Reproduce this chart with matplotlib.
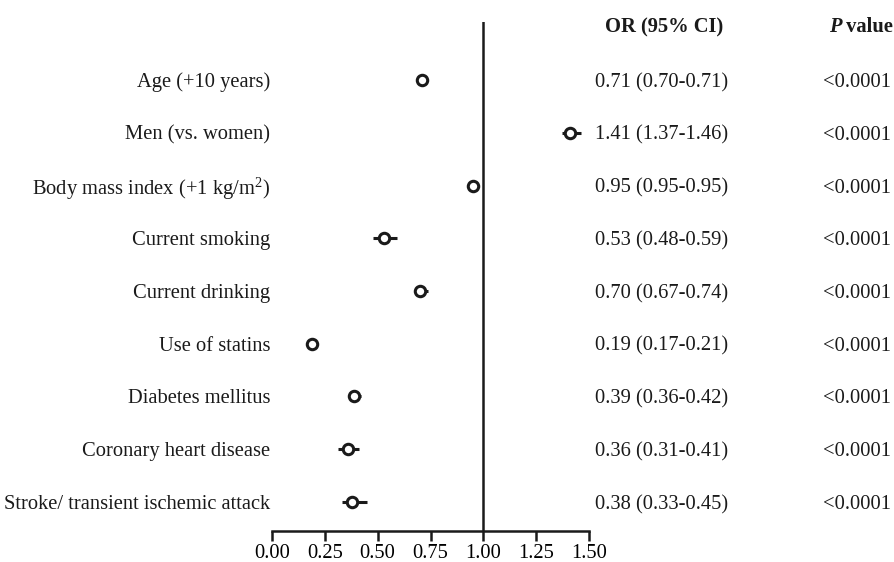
import numpy as np
import matplotlib
matplotlib.use("Agg")
import matplotlib.pyplot as plt

plt.rcParams['font.family'] = ['Liberation Serif', 'DejaVu Serif']
plt.rcParams['mathtext.fontset'] = 'custom'
plt.rcParams['mathtext.rm'] = 'Liberation Serif'
plt.rcParams['mathtext.it'] = 'Liberation Serif:italic'
plt.rcParams['mathtext.bf'] = 'Liberation Serif:bold'

# data
labels = ["Age (+10 years)", "Men (vs. women)", "Body mass index (+1 kg/m$^2$)",
          "Current smoking", "Current drinking", "Use of statins",
          "Diabetes mellitus", "Coronary heart disease",
          "Stroke/ transient ischemic attack"]
odds = [0.71, 1.41, 0.95, 0.53, 0.70, 0.19, 0.39, 0.36, 0.38]
ci_low = [0.70, 1.37, 0.95, 0.48, 0.67, 0.17, 0.36, 0.31, 0.33]
ci_high = [0.71, 1.46, 0.95, 0.59, 0.74, 0.21, 0.42, 0.41, 0.45]
p_values = ["<0.0001"] * 9
xticks = [0.00, 0.25, 0.50, 0.75, 1.00, 1.25, 1.50]

fs = 14.8
ink = '#1a1a1a'

fig = plt.figure(figsize=(8.94, 5.62), dpi=100)
ax = fig.add_axes([272 / 894, 31 / 562, 317 / 894, 509 / 562])

rows = np.arange(1, len(labels) + 1)
odds = np.array(odds)
err = [odds - np.array(ci_low), np.array(ci_high) - odds]

ax.errorbar(odds, rows, xerr=err, fmt='none', ecolor=ink, elinewidth=2.2, capsize=0)
ax.plot(odds, rows, 'o', markersize=7.5, markerfacecolor='white',
        markeredgecolor=ink, markeredgewidth=2.2, linestyle='none')
ax.axvline(1.0, color=ink, linewidth=1.8, zorder=0)

ax.set_xlim(0, 1.5)
ax.set_ylim(9.55, -0.1)
ax.set_xticks(xticks)
ax.set_xticklabels([f"{t:.2f}" for t in xticks], fontsize=fs)
ax.set_yticks([])
for s in ['top', 'right', 'left']:
    ax.spines[s].set_visible(False)
ax.spines['bottom'].set_linewidth(1.8)
ax.spines['bottom'].set_color(ink)
ax.tick_params(axis='x', length=7, width=1.8, color=ink, pad=2)

for r, lab in zip(rows, labels):
    ax.text(-0.005, r, lab, ha='right', va='center_baseline', fontsize=fs,
            transform=ax.get_yaxis_transform(), color=ink)

trans = matplotlib.transforms.blended_transform_factory(fig.transFigure, ax.transData)
for r, o, lo, hi, p in zip(rows, odds, ci_low, ci_high, p_values):
    ax.text(662 / 894, r, f"{o:.2f} ({lo:.2f}-{hi:.2f})", ha='center', va='center_baseline',
            fontsize=fs, transform=trans, color=ink)
    ax.text(891 / 894, r, p, ha='right', va='center_baseline', fontsize=fs,
            transform=trans, color=ink)

fig.text(664 / 894, 1 - 25 / 562, "OR (95% CI)", ha='center', va='center_baseline',
         fontsize=fs, fontweight='bold', color=ink)
val = fig.text(893 / 894, 1 - 25 / 562, " value", ha='right', va='center_baseline',
               fontsize=fs, fontweight='bold', color=ink)
fig.canvas.draw()
bb = val.get_window_extent()
fig.text(bb.x0 / fig.bbox.width, 1 - 25 / 562, "P", ha='right', va='center_baseline',
         fontsize=fs, fontweight='bold', fontstyle='italic', color=ink)

fig.savefig("out.png", dpi=100)
